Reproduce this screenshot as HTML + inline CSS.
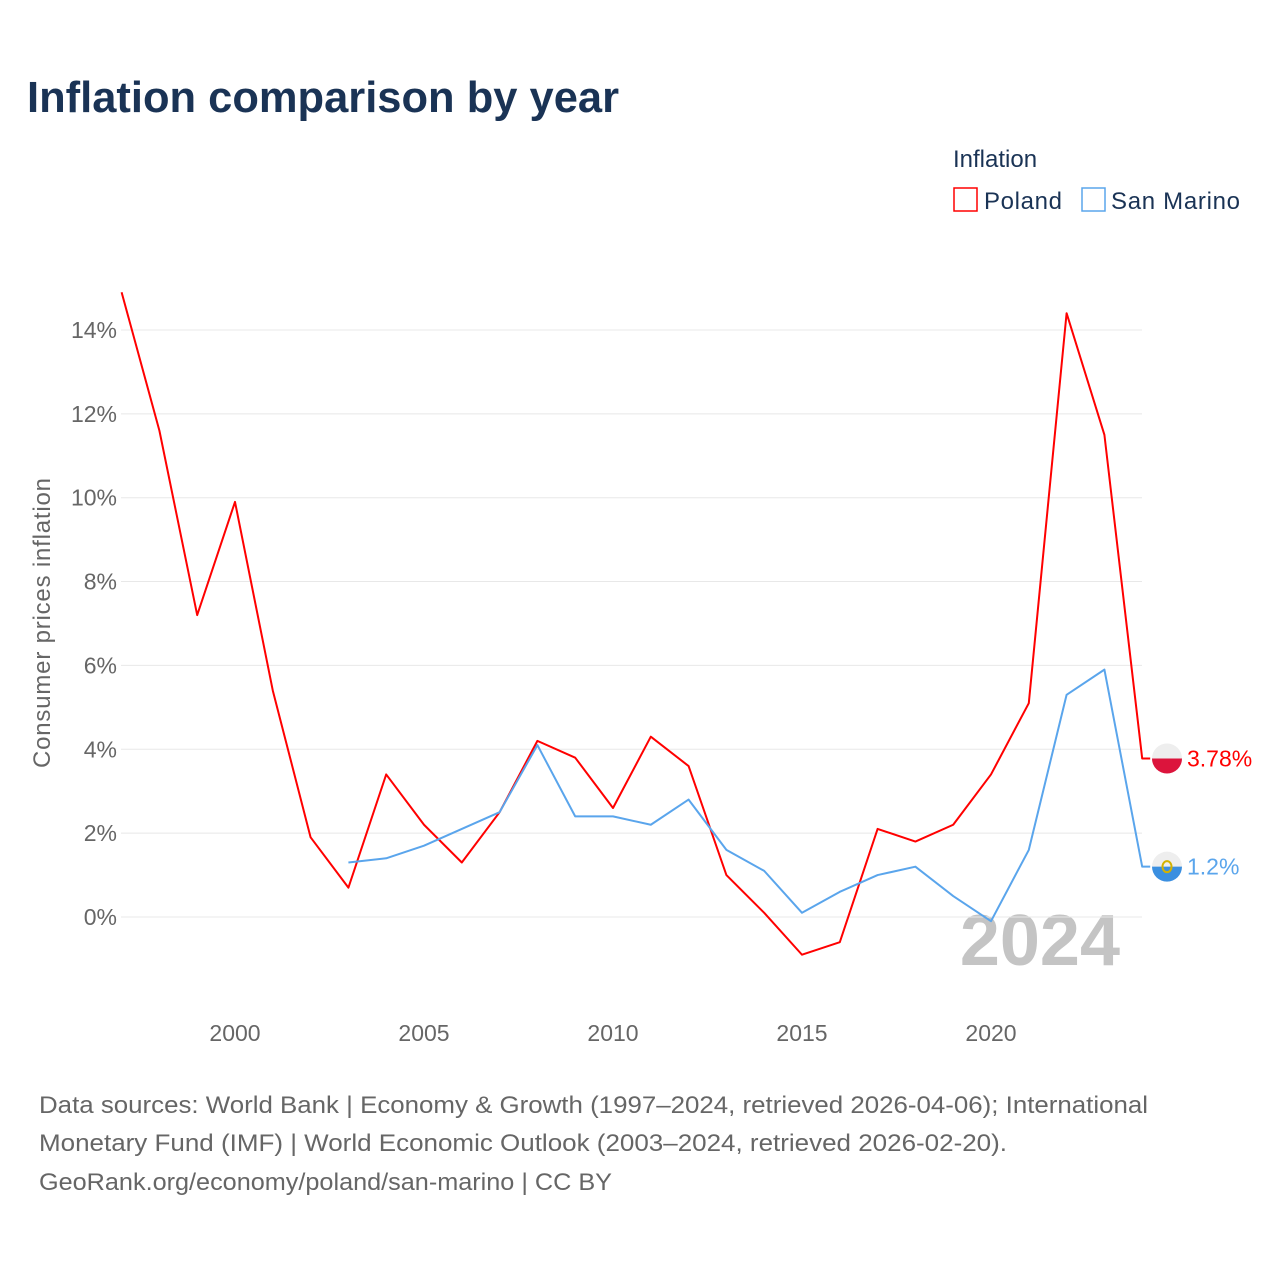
<!DOCTYPE html>
<html><head><meta charset="utf-8"><style>
body{margin:0;background:#fff;font-family:"Liberation Sans",sans-serif;}
svg text{font-family:"Liberation Sans",sans-serif;}
</style></head><body>
<svg id="chart" width="1280" height="1280" xmlns="http://www.w3.org/2000/svg">
<text x="27" y="112" font-size="44" font-weight="bold" fill="#1a3355" textLength="592" lengthAdjust="spacingAndGlyphs">Inflation comparison by year</text>
<g>
<text x="953" y="167" font-size="24" fill="#1a3355">Inflation</text>
<rect x="954" y="188" width="23" height="23" fill="none" stroke="#ff0000" stroke-width="1.5"/>
<text x="984" y="209" font-size="24" fill="#1a3355" textLength="78">Poland</text>
<rect x="1082" y="188" width="23" height="23" fill="none" stroke="#5aa5ec" stroke-width="1.5"/>
<text x="1111" y="209" font-size="24" fill="#1a3355" textLength="129">San Marino</text>
</g>
<text transform="translate(50,623) rotate(-90)" text-anchor="middle" font-size="24" fill="#666" textLength="290">Consumer prices inflation</text>
<text x="1120" y="965" text-anchor="end" font-size="72" font-weight="bold" fill="#c4c4c4">2024</text>
<g id="grid"></g><g id="series"></g>
<g font-size="24" fill="#666" lengthAdjust="spacingAndGlyphs">
<text x="39" y="1113" textLength="1109" lengthAdjust="spacingAndGlyphs">Data sources: World Bank | Economy &amp; Growth (1997–2024, retrieved 2026-04-06); International</text>
<text x="39" y="1151" textLength="968" lengthAdjust="spacingAndGlyphs">Monetary Fund (IMF) | World Economic Outlook (2003–2024, retrieved 2026-02-20).</text>
<text x="39" y="1190" textLength="573" lengthAdjust="spacingAndGlyphs">GeoRank.org/economy/poland/san-marino | CC BY</text>
</g>
</svg>
<script>
const yTicks=[0,2,4,6,8,10,12,14];
const xTicks=[2000,2005,2010,2015,2020];
const polandYears=[1997,1998,1999,2000,2001,2002,2003,2004,2005,2006,2007,2008,2009,2010,2011,2012,2013,2014,2015,2016,2017,2018,2019,2020,2021,2022,2023,2024];
const polandValues=[14.9,11.6,7.2,9.9,5.4,1.9,0.7,3.4,2.2,1.3,2.5,4.2,3.8,2.6,4.3,3.6,1.0,0.1,-0.9,-0.6,2.1,1.8,2.2,3.4,5.1,14.4,11.5,3.78];
const smYears=[2003,2004,2005,2006,2007,2008,2009,2010,2011,2012,2013,2014,2015,2016,2017,2018,2019,2020,2021,2022,2023,2024];
const smValues=[1.3,1.4,1.7,2.1,2.5,4.1,2.4,2.4,2.2,2.8,1.6,1.1,0.1,0.6,1.0,1.2,0.5,-0.1,1.6,5.3,5.9,1.2];
const NS="http://www.w3.org/2000/svg";
const X=y=>121.6+(y-1997)*37.8;
const Y=v=>917-v*41.93;
const grid=document.getElementById('grid'),ser=document.getElementById('series');
function mk(t,a,p){const e=document.createElementNS(NS,t);for(const k in a)e.setAttribute(k,a[k]);p.appendChild(e);return e;}
yTicks.forEach(v=>{
 const l=mk('line',{x1:121,x2:1142,y1:Y(v),y2:Y(v),stroke:'#e8e8e8','stroke-width':1},grid);
 
 
 const t=mk('text',{x:117,y:Y(v)+8,'text-anchor':'end','font-size':23,fill:'#666'},grid);
 t.textContent=v+'%';
 
 
});
xTicks.forEach(v=>{
 const t=mk('text',{x:X(v),y:1041,'text-anchor':'middle','font-size':23,fill:'#666'},grid);
 t.textContent=v;
 
 
});
function line(ys,vs,c,name){
 let d=ys.map((y,i)=>(i?'L':'M')+X(y)+','+Y(vs[i])).join(' ');
 const last=Y(vs[vs.length-1]);
 d+=' L'+(X(ys[ys.length-1])+8)+','+last;
 const p=mk('path',{d:d,fill:'none',stroke:c,'stroke-width':2,'stroke-linejoin':'round'},ser);
 
 
 return last;
}
const py=line(polandYears,polandValues,'#ff0000','poland');
const sy=line(smYears,smValues,'#5aa5ec','san-marino');
function flag(cy,top,bot,name){
 const g=mk('g',{},ser);
 
 
 mk('path',{d:`M1152,${cy} A15,15 0 0 1 1182,${cy} Z`,fill:top},g);
 mk('path',{d:`M1152,${cy} A15,15 0 0 0 1182,${cy} Z`,fill:bot},g);
 return g;
}
flag(py,'#eeeeee','#dc143c','poland');
const g=flag(sy,'#eeeeee','#3b8fe0','san-marino');
mk('ellipse',{cx:1167,cy:sy,rx:4.5,ry:5.5,fill:'none',stroke:'#d4b200','stroke-width':2},g);
const t1=mk('text',{x:1187,y:py+8,'font-size':23,fill:'#ff0000'},ser);
t1.textContent=polandValues[polandValues.length-1]+'%';


const t2=mk('text',{x:1187,y:sy+8,'font-size':23,fill:'#5aa5ec'},ser);
t2.textContent=smValues[smValues.length-1]+'%';


</script>
</body></html>
